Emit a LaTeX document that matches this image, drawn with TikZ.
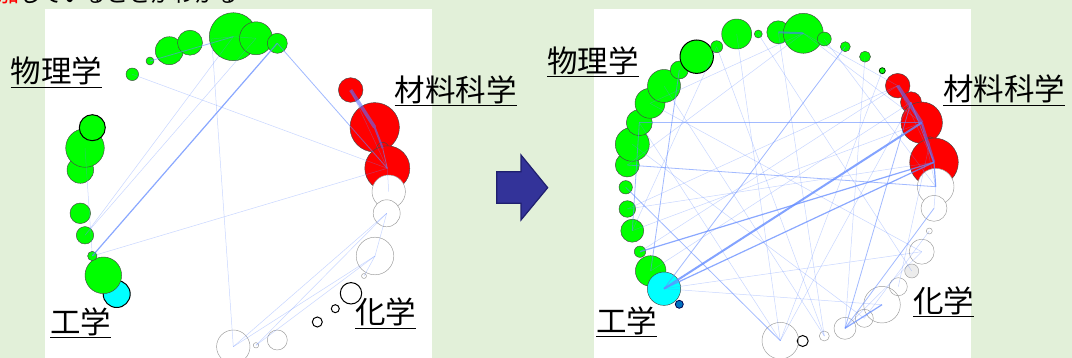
\documentclass[tikz,border=0pt]{standalone}
\usepackage{fontspec}
\newfontfamily\jp{Noto Sans CJK JP}
\definecolor{bgc}{RGB}{226,240,217}
\definecolor{ggreen}{RGB}{0,255,0}
\definecolor{rred}{RGB}{255,0,0}
\definecolor{ccyan}{RGB}{0,255,255}
\definecolor{eb}{RGB}{100,140,255}
\definecolor{pl}{RGB}{90,110,255}
\definecolor{tealc}{RGB}{60,150,200}
\definecolor{arrf}{RGB}{51,51,153}
\definecolor{arrd}{RGB}{31,31,110}
\definecolor{dblue}{RGB}{0,112,192}
\definecolor{outl}{RGB}{70,70,70}
\tikzset{
  bub/.style={circle, inner sep=0pt, outer sep=0pt, draw=outl, line width=0.45pt},
  rad/.style={minimum size={2*#1pt}},
  gn/.style={bub, fill=ggreen},
  rd/.style={bub, fill=rred},
  wh/.style={bub, fill=white, draw=gray!80},
  wo/.style={bub, draw=gray!80},
  bk/.style={bub, draw=black, line width=1pt},
  e1/.style={draw=eb, opacity=0.35, line width=0.5pt},
  e2/.style={draw=eb, opacity=0.6, line width=0.8pt},
  e3/.style={draw=eb, opacity=0.75, line width=1.2pt},
  e4/.style={draw=eb, opacity=0.8, line width=2pt},
  pth/.style={draw=pl, opacity=0.6, line width=3.5pt},
  tl/.style={draw=tealc, opacity=0.8, line width=2pt},
  lab/.style={font=\jp\fontsize{30.5}{36}\selectfont, inner sep=0pt, anchor=base west},
  ul/.style={draw=black, line width=1.3pt},
}
\begin{document}
\begin{tikzpicture}[x=1pt,y=-1pt]
\useasboundingbox (0,0) rectangle (1072,358);
\clip (0,0) rectangle (1072,358);
\fill[bgc] (0,0) rectangle (1072,358);
\node[font=\jp\fontsize{22}{26}\selectfont, inner sep=0pt, anchor=base west] (top) at (-25,2.5) {\textcolor{rred}{増加}していることがわかる};
% panels
\fill[white] (44.5,9) rectangle (432,360);
\fill[white] (594,9) rectangle (971,360);
% arrow
\draw[fill=arrf, draw=arrd, line width=1.2pt, line join=miter] (496.7,171.7) -- (521,171.7) -- (521,155) -- (547.7,187.7) -- (521,220) -- (521,203.3) -- (496.7,203.3) -- cycle;

% ---------------- left panel circles
\node[gn,rad=6.3] (Lg7) at (132.3,74.3) {};
\node[gn,rad=4] (Lg6) at (150,61) {};
\node[gn,rad=14] (Lg5) at (169.3,50.7) {};
\node[gn,rad=12.5] (Lg4) at (190,42.7) {};
\node[gn,rad=24] (Lg1) at (233.3,36.7) {};
\node[gn,rad=16.5] (Lg2) at (256,38.3) {};
\node[gn,rad=10] (Lg3) at (277.3,43.3) {};
\node[bub,fill=ccyan,draw=black,line width=1pt,rad=13.5] (Lcy) at (116.7,294) {};
\node[gn,rad=18.3] (Lgh) at (103.3,275.3) {};
\node[gn,rad=4.7] (Lgg) at (92.3,256) {};
\node[gn,rad=8.7] (Lgf) at (85,235.3) {};
\node[gn,rad=10.3] (Lge) at (80.3,213.3) {};
\node[gn,rad=13.3] (Lgd) at (80.3,170) {};
\node[gn,rad=19.3] (Lgc) at (85,148) {};
\node[gn,draw=black,line width=1pt,rad=13] (Lgb) at (92.3,127.7) {};
\node[rd,rad=12.3] (Lr1) at (350.7,90) {};
\node[rd,rad=24.7] (Lr2) at (374.7,127.3) {};
\node[rd,rad=6] (Lo1) at (382.7,148.3) {};
\node[rd,rad=22.5] (Lr3) at (387.3,168.3) {};
\node[wh,rad=16.7] (Lw1) at (388.7,191.7) {};
\node[wh,rad=13.5] (Lw2) at (386.7,213.3) {};
\node[wo,rad=18.8] (Lw3) at (375,256) {};
\node[wo,rad=2.5] (Lw4) at (364,276) {};
\node[bk,rad=10.7] (Lk1) at (351,293.3) {};
\node[bk,rad=4] (Lw5) at (335.3,308.7) {};
\node[bk,rad=5] (Lw6) at (317.3,322) {};
\node[wo,rad=10] (Lw7) at (277.3,340) {};
\node[wo,rad=2.7] (Lw8) at (256,345.3) {};
\node[wo,rad=16.7] (Lw9) at (233.3,346.7) {};
\coordinate (LF) at (211.7,39);

% left edges
\draw[e2] (Lg6.center) -- (Lg1.center);
\draw[e1] (LF) -- (Lg1.center);
\draw[e1] (Lg1.center) -- (Lg2.center);
\draw[e1] (Lg7.center) -- (Lr3.center);
\draw[e2] (Lg3.center) -- (Lr3.center);
\draw[e3] (Lg3.center) -- (Lgg.center);
\draw[e1] (Lg1.center) -- (Lgf.center);
\draw[e1] (Lg2.center) -- (Lgf.center);
\draw[e1] (LF) -- (Lw9.center);
\draw[e1] (Lgg.center) -- (Lr3.center);
\draw[e1] (Lgc.center) -- (Lgg.center);
\draw[pth] (Lr1.center) -- (Lr2.center);
\draw[pth, line width=2pt] (Lr2.center) -- (Lo1.center);
\draw[e2] (Lo1.center) -- (Lr3.center);
\draw[e1] (Lr1.center) -- (Lr3.center);
\draw[e1] (Lr3.center) -- (Lw1.center);
\draw[e1] (Lw2.center) -- (Lw9.center);
\draw[e1] (Lw3.center) -- (Lw9.center);
\draw[e1] (Lw3.center) -- (Lw8.center);
\draw[e1] (Lw2.center) -- (Lw8.center);
\draw[e1] (Lw2.center) -- (Lw3.center);
\draw[e1] (Lw3.center) -- (Lw4.center);

% ---------------- right panel circles
\node[gn,rad=15.3] (Rg12) at (650.7,271) {};
\node[bub,fill=ccyan,rad=16.7] (Rcy) at (664,288.7) {};
\node[bub,fill=dblue,draw=black!70!blue,line width=0.8pt,rad=4] (Rdb) at (679.3,304.3) {};
\node[gn,rad=5.7] (Rg11) at (640,251.7) {};
\node[gn,rad=11.5] (Rg10) at (632.3,230.7) {};
\node[gn,rad=8.3] (Rg9) at (627.3,209) {};
\node[gn,rad=6.7] (Rg8) at (625.7,187.3) {};
\node[gn,rad=12] (Rg7) at (627.3,165) {};
\node[gn,rad=17] (Rg6) at (632.3,144.3) {};
\node[gn,rad=13] (Rg5) at (639.3,122.7) {};
\node[gn,rad=15] (Rg4) at (650,103.3) {};
\node[gn,rad=16.5] (Rg3) at (664,86) {};
\node[gn,rad=9] (Rg2) at (679.3,70) {};
\node[gn,draw=black,line width=1pt,rad=16.7] (Rg1) at (696.7,56.7) {};
\node[gn,rad=6] (Rt0) at (716.7,46.7) {};
\node[gn,rad=15] (Rt1) at (736.7,34) {};
\node[gn,rad=4] (Rt2) at (758.3,34) {};
\node[gn,rad=11.5] (Rt3) at (778.3,32.3) {};
\node[gn,rad=20] (Rt4) at (803.3,33.3) {};
\node[gn,rad=7] (Rt5) at (824.3,39) {};
\node[gn,rad=5] (Rt6) at (845.3,46.7) {};
\node[gn,rad=5.5] (Rt7) at (865,56.7) {};
\node[gn,draw=black!80!green,line width=0.8pt,rad=3] (Rt8) at (882.3,70.7) {};
\node[rd,rad=12.3] (Rr1) at (897.7,85.7) {};
\node[rd,rad=10.5] (Rr2) at (911,102.3) {};
\node[rd,rad=20.7] (Rr3) at (921.7,122.7) {};
\node[rd,rad=5] (Rr3s) at (930,141.7) {};
\node[rd,rad=24.3] (Rr4) at (934,162.3) {};
\node[wh,rad=18.3] (Rw1) at (935.7,186.7) {};
\node[wh,rad=13] (Rw2) at (934,208.3) {};
\node[wo,rad=3] (Rw3) at (929.3,231) {};
\node[wo,rad=12.5] (Rw4) at (921.7,251.7) {};
\node[wo,fill=gray!15,rad=7] (Rw5) at (911.7,271) {};
\node[wo,rad=9] (Rw6) at (898.3,286.7) {};
\node[wo,rad=18.3] (Rw7) at (882,304.7) {};
\node[wo,rad=9] (Rw8) at (864.3,318.3) {};
\node[wo,rad=11] (Rw9) at (845,328.3) {};
\node[wo,rad=5] (Rw10) at (824.3,336) {};
\node[bk,rad=5.5] (Rw11) at (802.7,341) {};
\node[wo,rad=18.3] (Rw12) at (780.3,340.7) {};

% right edges
\draw[e2] (Rg5.center) -- (Rr3.center);
\draw[e2] (Rg7.center) -- (Rw1.center);
\draw[e4] (Rcy.center) -- (Rr3.center);
\draw[e3] (Rcy.center) -- (Rr4.center);
\draw[e3] (Rg11.center) -- (Rr4.center);
\draw[e2] (Rcy.center) -- (Rt6.center);
\draw[e2] (Rg12.center) -- (Rg2.center);
\draw[e2] (Rg10.center) -- (Rg5.center);
\draw[e2] (Rg8.center) -- (Rw12.center);
\draw[e1] (Rcy.center) -- (Rw7.center);
\draw[e2] (Rw9.center) -- (Rr2.center);
\draw[e3] (Rw9.center) -- (Rw7.center);
\draw[e2] (Rw9.center) -- (Rw2.center);
\draw[e1] (Rw6.center) -- (Rr3s.center);
\draw[e1] (Rt1.center) -- (Rw12.center);
\draw[e1] (Rw10.center) -- (Rt0.center);
\draw[e1] (Rt0.center) -- (Rg10.center);
\draw[e1] (Rr1.center) -- (Rg11.center);
\draw[e1] (Rr3.center) -- (Rg10.center);
\draw[e1] (Rr4.center) -- (Rg9.center);
\draw[tl] (Rt3.center) -- (Rt4.center);
\draw[e1] (Rt4.center) -- (Rr1.center);
\draw[e1] (Rt4.center) -- (Rr3.center);
\draw[e1] (Rt5.center) -- (Rw1.center);
\draw[e1] (Rt4.center) -- (Rg7.center);
\draw[e1] (Rt4.center) -- (Rg4.center);
\draw[e1] (Rg3.center) -- (Rw10.center);
\draw[e1] (Rw12.center) -- (Rg5.center);
\draw[e1] (Rw12.center) -- (Rr2.center);
\draw[e1] (Rt3.center) -- (Rw10.center);
\draw[pth] (Rr1.center) -- (Rr3.center);
\draw[pth, line width=2.5pt] (Rr3.center) -- (Rr4.center);
\draw[e3] (Rr4.center) -- (Rw1.center);
\draw[e1] (Rr1.center) -- (Rr4.center);
\draw[e2] (Rr2.center) -- (Rr4.center);
\draw[e1] (Rr3.center) -- (Rw1.center);
\draw[e1] (Rw1.center) -- (Rw2.center);
\draw[e1] (Rw4.center) -- (Rw9.center);
\draw[e1] (Rw3.center) -- (Rw8.center);
\draw[e1] (Rt2.center) -- (Rw5.center);
\draw[e1] (Rg6.center) -- (Rw8.center);
\draw[e1] (Rg4.center) -- (Rw4.center);
\draw[e1] (Rt8.center) -- (Rw12.center);
\draw[e1] (Rcy.center) -- (Rw4.center);
\draw[e1] (Rg9.center) -- (Rr1.center);
\draw[e1] (Rt7.center) -- (Rw9.center);
\draw[e1] (Rg12.center) -- (Rr2.center);

% labels
\node[lab] (L1) at (10.5,83) {物理学};
\node[lab] (L2) at (394.5,101.5) {材料科学};
\node[lab] (L3) at (50,333.5) {工学};
\node[lab] (L4) at (355,324) {化学};
\node[lab] (R1) at (547,72.5) {物理学};
\node[lab] (R2) at (943,101) {材料科学};
\node[lab] (R3) at (596,332.5) {工学};
\node[lab] (R4) at (913,312.5) {化学};
\foreach \n in {L1,L2,L3,L4,R1,R2,R3,R4}
  \draw[ul] ([yshift=-4.3pt]\n.base west) -- ([yshift=-4.3pt]\n.base east);
\end{tikzpicture}
\end{document}
